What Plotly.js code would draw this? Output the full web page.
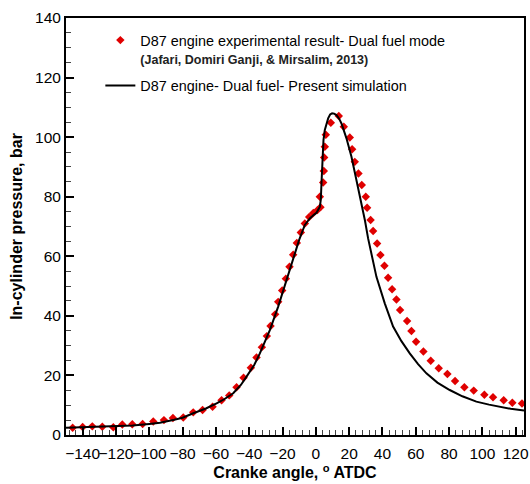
<!DOCTYPE html>
<html>
<head>
<meta charset="utf-8">
<script src="https://cdn.plot.ly/plotly-3.0.1.min.js"></script>
<style>html,body{margin:0;padding:0;background:#fff;}#chart{width:530px;height:484px;}</style>
</head>
<body>
<div id="chart"></div>
<script>
// Experimental result (red diamonds)
var expAngle = [-146, -140, -134.2, -128.2, -121.6, -116.2, -110.2, -104, -97.6, -91.2, -85.8, -79.6, -73.6, -68, -62, -56.6, -52, -47.6, -43.4, -39, -35.6, -32.4, -29.4, -27.2, -24.4, -22.6, -20.2, -18, -15.8, -13.6, -11.4, -9, -6.6, -4, -1.5, 1, 2.8, 2.4, 4.4, 4.8, 5, 5.4, 6, 9, 13.8, 16.8, 20.4, 21.8, 23.4, 25.6, 27.6, 30, 30.8, 32.9, 34.4, 36.8, 38.8, 41.2, 43.4, 45.8, 48.4, 50.6, 54.8, 57.4, 60.2, 64.6, 69, 73.8, 79, 83.6, 89.2, 94.8, 101.2, 106.4, 112.8, 118, 123.8];
var expPressure = [2.45, 2.7, 2.9, 2.8, 2.6, 3.5, 3.6, 3.7, 4.5, 5.0, 5.7, 5.9, 7.6, 8.4, 9.5, 11.7, 13.3, 16.0, 19.2, 22.6, 26.0, 29.5, 33.2, 36.6, 40.5, 44.7, 48.5, 52.5, 56.5, 60.5, 64.5, 68, 71, 73.2, 74.5, 75.5, 76.5, 80, 84.8, 88.6, 93.2, 96.8, 100.8, 104.8, 107.1, 103.5, 99.9, 95.9, 91.7, 87.8, 83.9, 80, 76.3, 72.2, 68.5, 64.3, 60.4, 56.8, 52.8, 48.9, 45.5, 42, 38.3, 34.9, 31.3, 28, 24.9, 22.4, 20.5, 18.1, 16, 14.9, 13.5, 12.7, 11.7, 10.8, 10.6];

// Present simulation (black line)
var simAngle = [-150, -140, -120, -110, -100, -93.6, -85, -80, -73.6, -66, -59.6, -55, -49.6, -45, -41.6, -37, -33.6, -30, -27.6, -22.6, -18, -14, -10, -6.6, -3.6, -1, 0.4, 2.4, 3, 3.4, 4, 4.6, 5.4, 6.4, 7.4, 8.6, 9.8, 11, 12.4, 14, 15.4, 18.4, 21.4, 24.4, 27.4, 29.5, 31.4, 36.4, 41.4, 46.4, 51.4, 56.4, 61.4, 66.4, 73, 80.4, 88, 96.4, 104, 110.4, 117, 125];
var simPressure = [2.45, 2.6, 2.8, 3.2, 3.7, 4.1, 5.1, 5.8, 7.3, 8.9, 10.6, 12, 14, 16.8, 19.6, 23.5, 27.4, 32, 35.2, 43.1, 51, 58, 65.5, 70.5, 72.7, 74, 74.6, 76.6, 79, 84.5, 94.6, 99, 102.4, 104.8, 106.3, 107.6, 108, 107.9, 107.4, 106.2, 104.6, 99.6, 93.4, 85.5, 78, 72, 66, 53.1, 44.2, 36.4, 31.5, 27.4, 23.8, 20.7, 17.6, 15.1, 13, 11.2, 10.2, 9.5, 8.8, 8.2];

var expName = 'D87 engine experimental result- Dual fuel mode<br><span style="font-size:12.5px;font-weight:bold;color:#222">(Jafari, Domiri Ganji, &amp; Mirsalim, 2013)</span>';
var simName = 'D87 engine- Dual fuel- Present simulation';

var fontFam = 'Liberation Sans, Arial, sans-serif';

var traces = [
  {x: expAngle, y: expPressure, mode: 'markers', type: 'scatter', name: expName,
   legendgroup: 'exp',
   marker: {symbol: 'diamond', size: 6.5, color: '#e00000'}},
  {x: simAngle, y: simPressure, mode: 'lines', type: 'scatter', name: simName,
   legendgroup: 'sim',
   line: {color: '#000', width: 2}}
];

var axisCommon = {
  showgrid: false, zeroline: false, showline: true, linecolor: '#000', linewidth: 2,
  mirror: true, ticks: 'inside', ticklen: 8, tickwidth: 2, tickcolor: '#000',
  tickangle: 0,
  tickfont: {family: fontFam, size: 15.5, color: '#000'}
};

var layout = {
  width: 530, height: 484,
  margin: {l: 66, r: 6, t: 18, b: 49},
  paper_bgcolor: '#fff', plot_bgcolor: '#fff',
  font: {family: fontFam, color: '#000'},
  showlegend: true,
  legend: {x: 0.075, y: 0.985, xanchor: 'left', yanchor: 'top', valign: 'top',
           bgcolor: 'rgba(0,0,0,0)', font: {family: fontFam, size: 14.4, color: '#000'},
           tracegroupgap: 5},
  xaxis: Object.assign({}, axisCommon, {
    range: [-150, 125], tick0: -140, dtick: 20, automargin: false,
    ticklabelstandoff: 3,
    minor: {dtick: 4, ticks: 'inside', ticklen: 5, tickwidth: 1, tickcolor: '#444'},
    title: {text: '<b>Cranke angle, <sup>o</sup> ATDC</b>', font: {family: fontFam, size: 16, color: '#000'}, standoff: 5}
  }),
  yaxis: Object.assign({}, axisCommon, {
    range: [0, 140], tick0: 0, dtick: 20, automargin: false,
    minor: {dtick: 5, ticks: 'inside', ticklen: 5, tickwidth: 1, tickcolor: '#444'},
    title: {text: '<b>In-cylinder pressure, bar</b>', font: {family: fontFam, size: 16, color: '#000'}, standoff: 8}
  })
};

Plotly.newPlot('chart', traces, layout, {displayModeBar: false, staticPlot: true});
</script>
</body>
</html>
